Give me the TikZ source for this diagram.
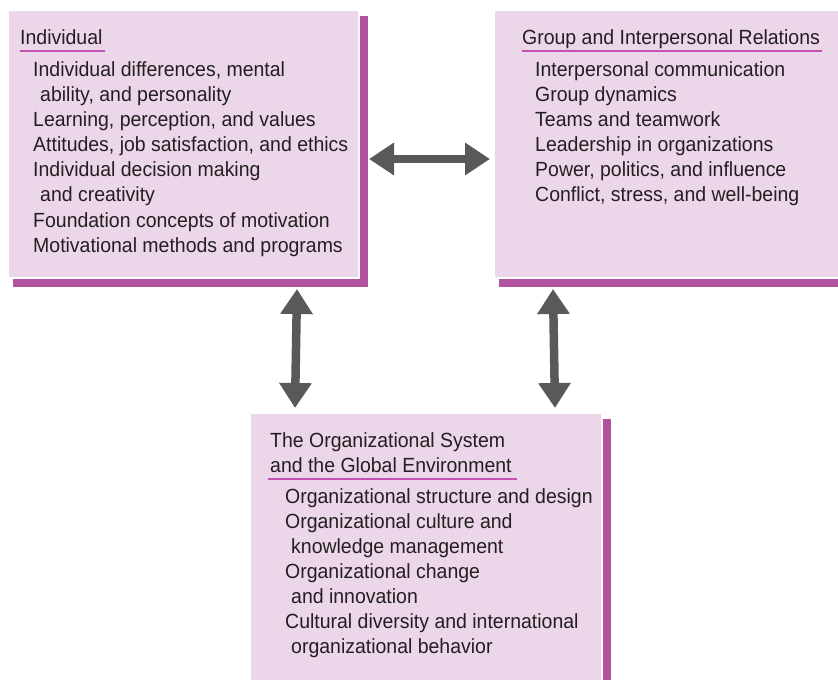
\documentclass[tikz,border=0pt]{standalone}
\usepackage{fontspec}
\setmainfont[FakeStretch=0.95]{Liberation Sans}
\usetikzlibrary{arrows.meta,positioning,calc,backgrounds}
\definecolor{panelpink}{HTML}{ECD6E9}
\definecolor{shadepurple}{HTML}{B1539F}
\definecolor{rulepink}{HTML}{C152B2}
\definecolor{arrowgray}{HTML}{58595B}
\definecolor{ink}{HTML}{231F20}
\tikzset{
  panel/.style ={fill=panelpink,draw=white,line width=2pt,inner sep=0pt,anchor=north west},
  shade/.style ={fill=shadepurple},
  head/.style  ={font=\fontsize{20.5}{25}\selectfont,text=ink,inner sep=0pt,anchor=base west},
  item/.style  ={font=\fontsize{20.5}{25}\selectfont,text=ink,inner sep=0pt,anchor=base west},
  rule/.style  ={draw=rulepink,line width=1.3pt},
  dbl/.style   ={{Triangle[width=31pt,length=25pt]}-{Triangle[width=31pt,length=25pt]},
                 draw=arrowgray,fill=arrowgray,line width=8.5pt},
}
\begin{document}
\begin{tikzpicture}[x=1pt,y=-1pt]
  \useasboundingbox (0,0) rectangle (838,680);
  % the three panels
  \node[panel,minimum width=351pt,minimum height=268pt] (ind) at (7,9){};
  \node[panel,minimum width=357pt,minimum height=268pt] (grp) at (493,9){};
  \node[panel,minimum width=352pt,minimum height=288pt] (org) at (249,412){};
  \begin{scope}[on background layer]
    \foreach \b in {ind,grp,org}
      \fill[shade] ($(\b.north west)+(6,7)$) rectangle ($(\b.south east)+(8,8)$);
  \end{scope}
  % headings
  \node[head] (ind-t) at (20,44){Individual};
  \node[head] (grp-t) at (522,44){Group and Interpersonal Relations};
  \node[head] (org-t1) at (270,447){The Organizational System};
  \node[head] (org-t) at (270,472){and the Global Environment};
  \draw[rule] ([yshift=-7pt]ind-t.base west) -- ([yshift=-7pt,xshift=2pt]ind-t.base east);
  \draw[rule] ([yshift=-7pt]grp-t.base west) -- ([yshift=-7pt,xshift=2pt]grp-t.base east);
  \draw[rule] ([shift={(-2pt,-7pt)}]org-t.base west) -- ([yshift=-7pt,xshift=5pt]org-t.base east);
  % topic lists
  \foreach \x/\y/\t [count=\i] in {33/76/{Individual differences, mental},
      40/101/{ability, and personality},33/126/{Learning, perception, and values},
      33/151/{Attitudes, job satisfaction, and ethics},33/176/{Individual decision making},
      40/201/{and creativity},33/227/{Foundation concepts of motivation},
      33/252/{Motivational methods and programs}}
    \node[item] (ind-\i) at (\x,\y){\t};
  \foreach \y/\t [count=\i] in {76/{Interpersonal communication},101/{Group dynamics},
      126/{Teams and teamwork},151/{Leadership in organizations},
      176/{Power, politics, and influence},201/{Conflict, stress, and well-being}}
    \node[item] (grp-\i) at (535,\y){\t};
  \foreach \x/\y/\t [count=\i] in {285/503/{Organizational structure and design},
      285/528/{Organizational culture and},291/553/{knowledge management},
      285/578/{Organizational change},291/603/{and innovation},
      285/628/{Cultural diversity and international},291/653/{organizational behavior}}
    \node[item] (org-\i) at (\x,\y){\t};
  % links between panels
  \draw[dbl] ([shift={(9pt,-15pt)}]ind.east) -- ([shift={(-3pt,-15pt)}]grp.west);
  \draw[dbl] ([shift={(-63pt,-10pt)}]ind.south east) -- ([shift={(46pt,4pt)}]org.north west);
  \draw[dbl] ([shift={(60pt,-10pt)}]grp.south west) -- ([shift={(-48pt,4pt)}]org.north east);
\end{tikzpicture}
\end{document}
